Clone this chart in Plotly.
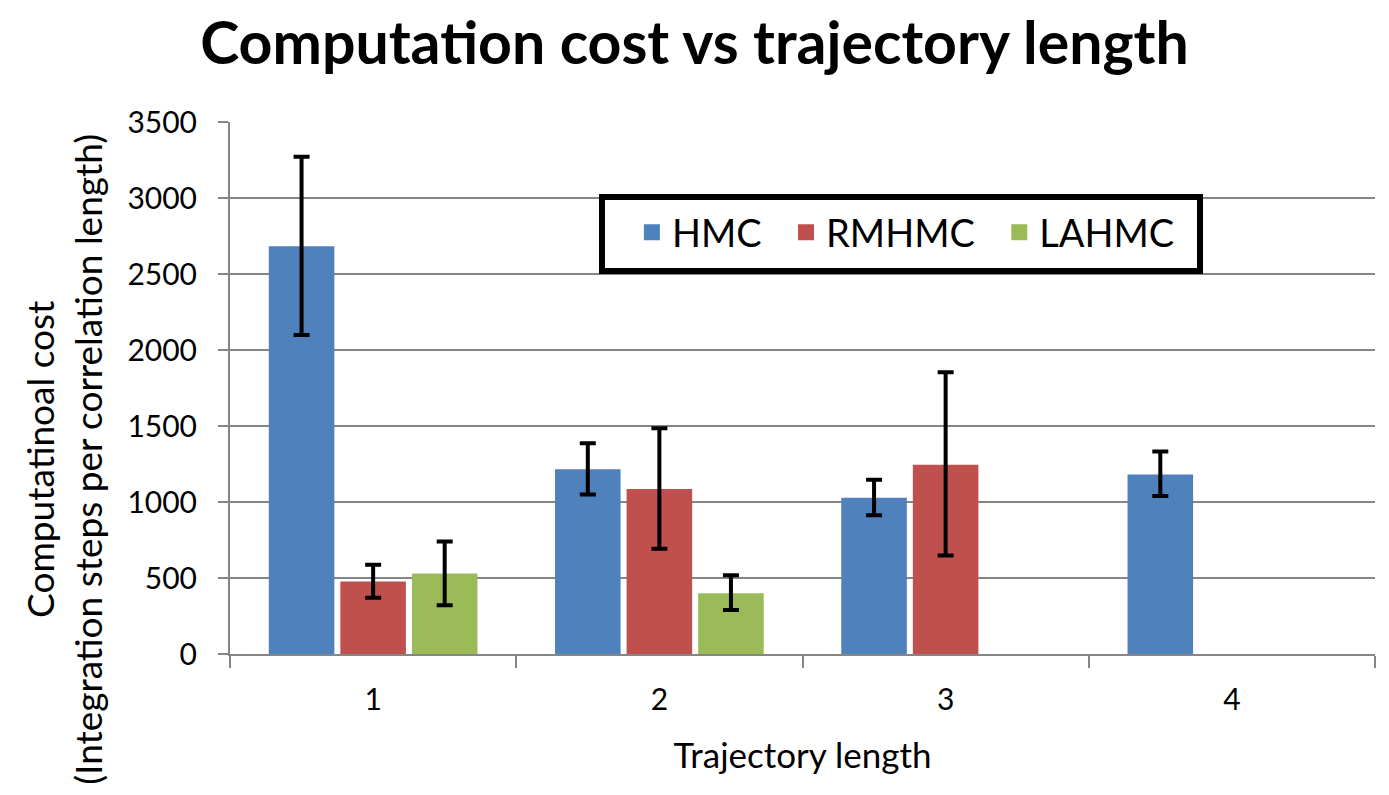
import plotly.graph_objects as go

categories = ["1", "2", "3", "4"]
series_names = ["HMC", "RMHMC", "LAHMC"]
colors = ["#4F81BD", "#C0504D", "#9BBB59"]

hmc = [2683, 1215, 1028, 1181]
hmc_hi = [3272, 1386, 1146, 1333]
hmc_lo = [2099, 1050, 913, 1039]

rmhmc = [477, 1086, 1245, None]
rmhmc_hi = [587, 1485, 1853, None]
rmhmc_lo = [370, 693, 648, None]

lahmc = [529, 399, None, None]
lahmc_hi = [740, 518, None, None]
lahmc_lo = [321, 289, None, None]

y_ticks = [0, 500, 1000, 1500, 2000, 2500, 3000, 3500]

FONT = "Lato"

def err(vals, hi, lo):
    plus = [(h - v) if v is not None else None for v, h in zip(vals, hi)]
    minus = [(v - l) if v is not None else None for v, l in zip(vals, lo)]
    return dict(type="data", symmetric=False, array=plus, arrayminus=minus,
                color="black", thickness=4, width=8)

fig = go.Figure()
for name, vals, hi, lo, c in [
    (series_names[0], hmc, hmc_hi, hmc_lo, colors[0]),
    (series_names[1], rmhmc, rmhmc_hi, rmhmc_lo, colors[1]),
    (series_names[2], lahmc, lahmc_hi, lahmc_lo, colors[2]),
]:
    fig.add_trace(go.Bar(x=categories, y=vals, name=name, marker_color=c,
                         marker_line_width=0, error_y=err(vals, hi, lo),
                         showlegend=False))

# legend entries with larger square swatches
for name, c in zip(series_names, colors):
    fig.add_trace(go.Scatter(x=[None], y=[None], mode="markers",
                             name=name + "\u00a0\u00a0",
                             marker=dict(symbol="square", size=16, color=c),
                             showlegend=True))

fig.update_layout(
    width=1389, height=795,
    margin=dict(l=230, r=14, t=122, b=141),
    paper_bgcolor="white", plot_bgcolor="white",
    barmode="group", bargap=0.25, bargroupgap=0.084,
    font=dict(family=FONT, color="black", size=30),
    title=dict(text="<b>Computation cost vs trajectory length</b>",
               x=0.5, xanchor="center", y=0.945, yanchor="middle",
               font=dict(family=FONT, size=59, color="black")),
    legend=dict(orientation="h", x=0.351, y=0.792, xanchor="left", yanchor="middle",
                bgcolor="rgba(0,0,0,0)", borderwidth=0,
                font=dict(family=FONT, size=38, color="black"),
                itemwidth=30, itemsizing="trace"),
    showlegend=True,
    shapes=[dict(type="rect", xref="paper", yref="paper",
                 x0=(602 - 230) / 1145, x1=(1200 - 230) / 1145,
                 y0=(654 - 271) / 532, y1=(654 - 197) / 532,
                 line=dict(color="black", width=6), fillcolor="white",
                 layer="above")],
    annotations=[dict(
        text="Computatinoal cost<br>(Integration steps per correlation length)",
        xref="paper", yref="paper", x=0, y=0.365, xanchor="center", yanchor="middle",
        xshift=-166, textangle=-90, showarrow=False,
        font=dict(family=FONT, size=37, color="black"))],
)

fig.update_xaxes(
    type="category", tickson="boundaries", ticks="outside", ticklen=12,
    tickcolor="#868686", tickwidth=2,
    showline=True, linecolor="#868686", linewidth=2,
    showgrid=False, tickfont=dict(size=30), ticklabelstandoff=18,
    title=dict(text="Trajectory length", font=dict(size=35), standoff=28),
)
fig.update_yaxes(
    range=[0, 3500], tickvals=y_ticks, ticks="outside", ticklen=10,
    tickcolor="#868686", tickwidth=2,
    showline=True, linecolor="#868686", linewidth=2,
    showgrid=True, gridcolor="#868686", gridwidth=2,
    zeroline=False, tickfont=dict(size=30), ticklabelstandoff=15,
)

fig.write_html("out.html")
